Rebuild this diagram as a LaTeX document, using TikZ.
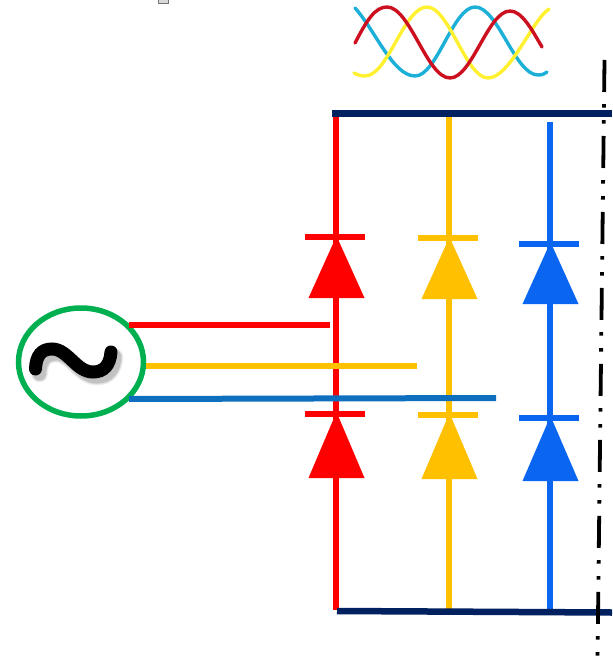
\documentclass[tikz,border=0pt]{standalone}
\usetikzlibrary{shapes.geometric}
\definecolor{railnavy}{HTML}{002060}
\definecolor{phasered}{HTML}{FF0000}
\definecolor{phaseyellow}{HTML}{FFC000}
\definecolor{phaseblue}{HTML}{0A66F0}
\definecolor{feedblue}{HTML}{0F6FBF}
\definecolor{sourcegreen}{HTML}{00B050}
\definecolor{wavered}{HTML}{CC1020}
\definecolor{wavecyan}{HTML}{1CB0D8}
\definecolor{waveyellow}{HTML}{FFF030}
\begin{document}
\begin{tikzpicture}[
x=1pt, y=-1pt,
sourcenode/.style={ellipse, draw=sourcegreen, line width=5.5pt, minimum width=125pt, minimum height=108pt, inner sep=0pt},
diodenode/.style={isosceles triangle, isosceles triangle stretches, shape border rotate=90, anchor=apex, inner sep=0pt, outer sep=0pt, minimum width=56pt, minimum height=62pt},
barnode/.style={rectangle, inner sep=0pt, outer sep=0pt, minimum width=60pt, minimum height=6pt},
stemline/.style={line width=6pt},
feedline/.style={line width=6pt},
railline/.style={draw=railnavy, line width=6.5pt},
waveline/.style={line width=3.4pt, line cap=round},
]
\useasboundingbox (0,0) rectangle (612,660);
%Coordinates
\coordinate (redTop) at (336,113);
\coordinate (redBot) at (336,610);
\coordinate (yellowTop) at (449,113);
\coordinate (yellowBot) at (449,610);
\coordinate (blueTop) at (550,122);
\coordinate (blueBot) at (550,610);
\coordinate (railTL) at (332,113.5);
\coordinate (railTR) at (612,113.5);
\coordinate (railBL) at (337,611);
\coordinate (railBR) at (612,612.5);
\coordinate (feedRA) at (129,325);
\coordinate (feedRB) at (330,325);
\coordinate (feedYB) at (417,365.5);
\coordinate (feedBA) at (129,399);
\coordinate (feedBB) at (496,398);
\coordinate (earthA) at (604.5,60);
\coordinate (earthB) at (597.5,660);
%Small mark on the top edge
\draw[fill=black!15, draw=black!55, line width=1pt] (158.5,-2) rectangle (168,3.5);
%Waves
\draw[waveline, wavecyan] (355,8) .. controls (375,30) and (393,76) .. (415,76) .. controls (437,76) and (453,7) .. (475,7) .. controls (498,7) and (515,75) .. (538,75) .. controls (542,75) and (545,74) .. (547,72);
\draw[waveline, waveyellow] (354,73) .. controls (358,75) and (361,76) .. (365,76) .. controls (388,76) and (404,7) .. (427,7) .. controls (449,7) and (466,78) .. (488,78) .. controls (510,78) and (532,20) .. (549,9);
\draw[waveline, wavered] (355,43) .. controls (367,20) and (375,7) .. (387,7) .. controls (410,7) and (427,78) .. (450,78) .. controls (472,78) and (488,11) .. (510,11) .. controls (522,11) and (532,30) .. (542,47);
%Stems
\draw[stemline, phasered] (redTop) -- (redBot);
\draw[stemline, phaseyellow] (yellowTop) -- (yellowBot);
\draw[stemline, phaseblue] (blueTop) -- (blueBot);
%Nodes
\node[barnode, fill=phasered] (barRT) at (335,237) {};
\node[diodenode, fill=phasered] (diodeRT) at (336.5,236) {};
\node[barnode, fill=phaseyellow] (barYT) at (448,238) {};
\node[diodenode, fill=phaseyellow] (diodeYT) at (449.5,237) {};
\node[barnode, fill=phaseblue] (barBT) at (549,244) {};
\node[diodenode, fill=phaseblue] (diodeBT) at (550.5,242) {};
\node[barnode, fill=phasered] (barRB) at (335,414) {};
\node[diodenode, fill=phasered, minimum height=66pt] (diodeRB) at (336.5,412) {};
\node[barnode, fill=phaseyellow] (barYB) at (448,415) {};
\node[diodenode, fill=phaseyellow, minimum height=66pt] (diodeYB) at (449.5,413) {};
\node[barnode, fill=phaseblue] (barBB) at (549,418) {};
\node[diodenode, fill=phaseblue, minimum height=65pt] (diodeBB) at (550.5,416) {};
\node[sourcenode] (source) at (81,362) {};
%Lines
\draw[feedline, phasered] (feedRA) -- (feedRB);
\draw[feedline, phaseyellow] (source.east |- feedYB) -- (feedYB);
\draw[feedline, feedblue] (feedBA) -- (feedBB);
\draw[railline] (railTL) -- (railTR);
\draw[railline] (railBL) -- (railBR);
\draw[black, line width=3.8pt, dash pattern=on 32pt off 12.2pt on 3.5pt off 12.4pt on 3.5pt off 12.4pt] (earthA) -- (earthB);
%Tilde
\foreach \w/\o in {17/.06, 15/.08, 13/.12}
  \draw[black, opacity=\o, line width=\w pt, line cap=round, xshift=4pt, yshift=-5pt] (35.5,369) .. controls (36,355) and (42,349) .. (52,349) .. controls (68,349) and (76,372) .. (93,372) .. controls (104,372) and (110,365) .. (111,352);
\draw[black, line width=13pt, line cap=round] (35.5,369) .. controls (36,355) and (42,349) .. (52,349) .. controls (68,349) and (76,372) .. (93,372) .. controls (104,372) and (110,365) .. (111,352);
\end{tikzpicture}
\end{document}
